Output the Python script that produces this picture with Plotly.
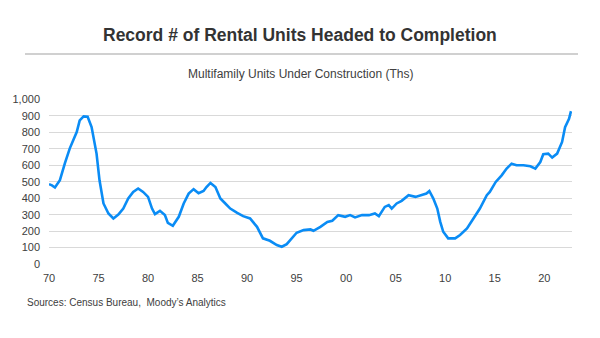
import plotly.graph_objects as go

# Multifamily units under construction, thousands (fractional years)
years = [
    1970.0, 1970.3, 1970.6, 1971.1, 1971.6, 1972.1, 1972.5, 1972.8, 1973.1, 1973.5,
    1973.9, 1974.3, 1974.8, 1975.1, 1975.5, 1976.0, 1976.5, 1977.0, 1977.5, 1978.0,
    1978.5, 1979.0, 1979.5, 1980.0, 1980.4, 1980.7, 1981.2, 1981.7, 1982.0, 1982.5,
    1983.1, 1983.6, 1984.1, 1984.6, 1985.1, 1985.6, 1985.9, 1986.3, 1986.8, 1987.3,
    1987.8, 1988.3, 1989.0, 1989.6, 1990.3, 1991.0, 1991.6, 1992.3, 1993.0, 1993.5,
    1994.0, 1994.5, 1995.0, 1995.7, 1996.4, 1996.7, 1997.4, 1998.1, 1998.6, 1999.2,
    1999.9, 2000.4, 2000.9, 2001.6, 2002.3, 2002.9, 2003.3, 2003.9, 2004.3, 2004.6,
    2005.1, 2005.6, 2006.3, 2007.0, 2007.6, 2008.1, 2008.4, 2008.8, 2009.2, 2009.5,
    2009.8, 2010.3, 2011.0, 2011.5, 2012.2, 2012.9, 2013.5, 2014.2, 2014.5, 2015.1,
    2015.7, 2016.2, 2016.7, 2017.2, 2017.9, 2018.6, 2019.1, 2019.6, 2019.9, 2020.4,
    2020.8, 2021.3, 2021.8, 2022.1, 2022.5, 2022.7,
]
units = [
    485, 478, 465, 510, 612, 703, 760, 802, 873, 897,
    895, 832, 671, 509, 368, 307, 277, 300, 337, 398,
    438, 459, 438, 408, 337, 303, 323, 297, 250, 232,
    287, 368, 428, 455, 430, 444, 468, 493, 468, 398,
    368, 337, 311, 291, 277, 226, 156, 141, 115, 105,
    121, 156, 190, 206, 210, 202, 226, 256, 263, 297,
    287, 297, 283, 297, 297, 307, 291, 347, 358, 337,
    368, 384, 418, 408, 418, 428, 444, 398, 337, 256,
    196, 156, 156, 176, 216, 277, 337, 418, 438, 499,
    539, 580, 610, 600, 600, 594, 580, 620, 667, 671,
    647, 671, 742, 832, 883, 929,
]

x_tick_vals = [1970, 1975, 1980, 1985, 1990, 1995, 2000, 2005, 2010, 2015, 2020]
x_tick_text = ["70", "75", "80", "85", "90", "95", "00", "05", "10", "15", "20"]
y_tick_vals = [0, 100, 200, 300, 400, 500, 600, 700, 800, 900, 1000]
y_tick_text = ["0", "100", "200", "300", "400", "500", "600", "700", "800", "900", "1,000"]

font_family = "Liberation Sans, Arial, sans-serif"

# Plot area in page pixels
LEFT, RIGHT, TOP, BOTTOM = 49, 28, 99, 74
W, H = 600, 338
plot_w = W - LEFT - RIGHT
plot_h = H - TOP - BOTTOM


def paper_x(px):
    return (px - LEFT) / plot_w


def paper_y(py):
    return (H - BOTTOM - py) / plot_h


fig = go.Figure()
fig.add_trace(go.Scatter(
    x=years, y=units, mode="lines",
    line=dict(color="#0a8cf5", width=2.6),
    hoverinfo="skip", showlegend=False,
))

fig.update_layout(
    width=W, height=H,
    margin=dict(l=LEFT, r=RIGHT, t=TOP, b=BOTTOM),
    paper_bgcolor="white", plot_bgcolor="white",
    font=dict(family=font_family, color="#404040", size=11),
    xaxis=dict(
        range=[1970, 2022.8], tickvals=x_tick_vals, ticktext=x_tick_text,
        showgrid=False, zeroline=False, showline=False, ticks="",
        ticklabelstandoff=6,
        tickfont=dict(size=11, color="#404040"),
    ),
    yaxis=dict(
        range=[0, 1003], tickvals=y_tick_vals, ticktext=y_tick_text,
        showgrid=True, gridcolor="#d9d9d9", gridwidth=1,
        zeroline=False, showline=False, ticks="",
        ticklabelstandoff=8,
        tickfont=dict(size=11, color="#404040"),
    ),
    annotations=[
        dict(text="<b>Record # of Rental Units Headed to Completion</b>",
             x=paper_x(300), y=paper_y(35), xref="paper", yref="paper",
             showarrow=False, yanchor="middle",
             font=dict(size=17.5, color="#333333", family=font_family)),
        dict(text="Multifamily Units Under Construction (Ths)",
             x=paper_x(300), y=paper_y(74), xref="paper", yref="paper",
             showarrow=False, yanchor="middle",
             font=dict(size=12, color="#404040", family=font_family)),
        dict(text="Sources: Census Bureau,  Moody\u2019s Analytics",
             x=paper_x(25), y=paper_y(302), xref="paper", yref="paper",
             showarrow=False, xanchor="left", yanchor="middle",
             font=dict(size=10, color="#404040", family=font_family)),
    ],
)

# Rule under the title
fig.add_shape(
    type="line", xref="paper", yref="paper",
    x0=paper_x(25), x1=paper_x(578),
    y0=paper_y(54), y1=paper_y(54),
    line=dict(color="#d0d0d0", width=2),
)

fig.write_html("out.html")
